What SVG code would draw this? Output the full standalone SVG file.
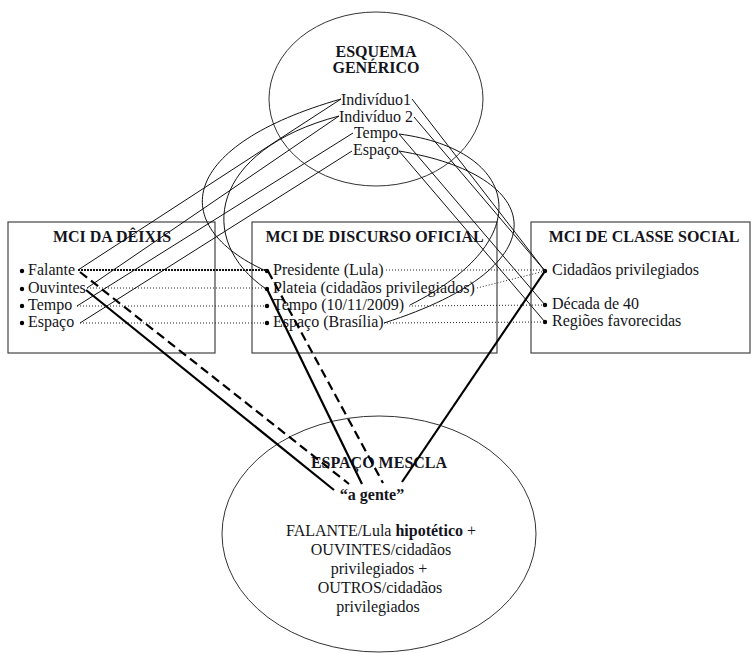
<svg xmlns="http://www.w3.org/2000/svg" width="751" height="653" viewBox="0 0 751 653">
<style>
text{font-family:"Liberation Serif","Times New Roman",serif;font-size:16px;fill:#141420}
.t{font-weight:bold}
.m{text-anchor:middle}
.box{fill:none;stroke:#444;stroke-width:1.2}
.ell{fill:none;stroke:#333;stroke-width:1}
.thin{fill:none;stroke:#111;stroke-width:1}
.dot{fill:none;stroke:#222;stroke-width:1;stroke-dasharray:1 2}
.bdot{fill:none;stroke:#111;stroke-width:2;stroke-dasharray:2 1}
.bold{fill:none;stroke:#000;stroke-width:2.2}
.dash{fill:none;stroke:#000;stroke-width:2.2;stroke-dasharray:9 5}
.b{fill:#000}
</style>
<rect width="751" height="653" fill="#fff"/>
<g id="esquema-generico">
<ellipse class="ell" cx="376" cy="99" rx="107" ry="87"/>
<text class="t m" x="376" y="57">ESQUEMA</text>
<text class="t m" x="376" y="73">GENÉRICO</text>
<text class="m" x="376" y="105">Indivíduo1</text>
<text class="m" x="376" y="121.5">Indivíduo 2</text>
<text class="m" x="376" y="138">Tempo</text>
<text class="m" x="376" y="154.5">Espaço</text>
</g>
<g id="mci-deixis">
<rect class="box" x="8" y="222" width="207" height="131"/>
<text class="t m" x="112" y="242">MCI DA DÊIXIS</text>
<circle class="b" cx="22" cy="271" r="2.2"/><text x="28" y="275">Falante</text>
<circle class="b" cx="22" cy="289" r="2.2"/><text x="28" y="293">Ouvintes</text>
<circle class="b" cx="22" cy="306" r="2.2"/><text x="28" y="310">Tempo</text>
<circle class="b" cx="22" cy="323" r="2.2"/><text x="28" y="327">Espaço</text>
</g>
<g id="mci-discurso-oficial">
<rect class="box" x="252" y="222" width="245" height="131"/>
<text class="t m" x="374.5" y="242">MCI DE DISCURSO OFICIAL</text>
<circle class="b" cx="267" cy="271" r="2.2"/><text x="273" y="275">Presidente (Lula)</text>
<circle class="b" cx="267" cy="289" r="2.2"/><text x="273" y="293">Plateia (cidadãos privilegiados)</text>
<circle class="b" cx="267" cy="306" r="2.2"/><text x="273" y="310">Tempo (10/11/2009)</text>
<circle class="b" cx="267" cy="323" r="2.2"/><text x="273" y="327">Espaço (Brasília)</text>
</g>
<g id="mci-classe-social">
<rect class="box" x="531" y="222" width="219" height="131"/>
<text class="t m" x="644" y="242">MCI DE CLASSE SOCIAL</text>
<circle class="b" cx="545" cy="271" r="2.2"/><text x="552" y="275">Cidadãos privilegiados</text>
<circle class="b" cx="545" cy="305" r="2.2"/><text x="552" y="309">Década de 40</text>
<circle class="b" cx="545" cy="322" r="2.2"/><text x="552" y="326">Regiões favorecidas</text>
</g>
<g id="espaco-mescla">
<ellipse class="ell" cx="379" cy="534" rx="157" ry="118"/>
<text class="t m" x="379" y="468">ESPAÇO MESCLA</text>
<text class="t m" x="372" y="500">“a gente”</text>
<text class="m" x="381" y="536">FALANTE/Lula <tspan class="t">hipotético</tspan> +</text>
<text class="m" x="381" y="555">OUVINTES/cidadãos</text>
<text class="m" x="379" y="574">privilegiados +</text>
<text class="m" x="380" y="593">OUTROS/cidadãos</text>
<text class="m" x="378" y="612">privilegiados</text>
</g>
<g id="connectors">
<line class="thin" x1="78" y1="270" x2="341" y2="99"/>
<line class="thin" x1="87" y1="288" x2="339" y2="116"/>
<line class="thin" x1="77" y1="306" x2="353" y2="133"/>
<line class="thin" x1="80" y1="323" x2="352" y2="151"/>
<line class="thin" x1="412" y1="99" x2="545" y2="271"/>
<line class="thin" x1="414" y1="117" x2="545" y2="271"/>
<line class="thin" x1="399" y1="134" x2="545" y2="305"/>
<line class="thin" x1="399" y1="151" x2="545" y2="322"/>
<path class="thin" d="M341,99 C180,145 165,225 266,271"/>
<path class="thin" d="M339,116 C210,150 195,240 266,289"/>
<path class="thin" d="M399,134 C520,150 540,240 410,305"/>
<path class="thin" d="M399,151 C545,175 565,265 384,323"/>
<line class="bdot" x1="78" y1="270" x2="267" y2="270"/>
<line class="dot" x1="87" y1="288" x2="267" y2="288"/>
<line class="dot" x1="77" y1="306" x2="267" y2="306"/>
<line class="dot" x1="80" y1="323" x2="267" y2="323"/>
<line class="dot" x1="386" y1="270" x2="545" y2="270"/>
<line class="dot" x1="477" y1="288" x2="545" y2="271"/>
<line class="dot" x1="409" y1="306" x2="545" y2="305"/>
<line class="dot" x1="384" y1="323" x2="545" y2="322"/>
<line class="dash" x1="80" y1="272" x2="349" y2="484"/>
<line class="bold" x1="86" y1="290" x2="334" y2="490"/>
<line class="dash" x1="268" y1="271" x2="383" y2="483"/>
<line class="bold" x1="267" y1="289" x2="362" y2="484"/>
<line class="bold" x1="545" y1="271" x2="402" y2="482"/>
</g>
</svg>
